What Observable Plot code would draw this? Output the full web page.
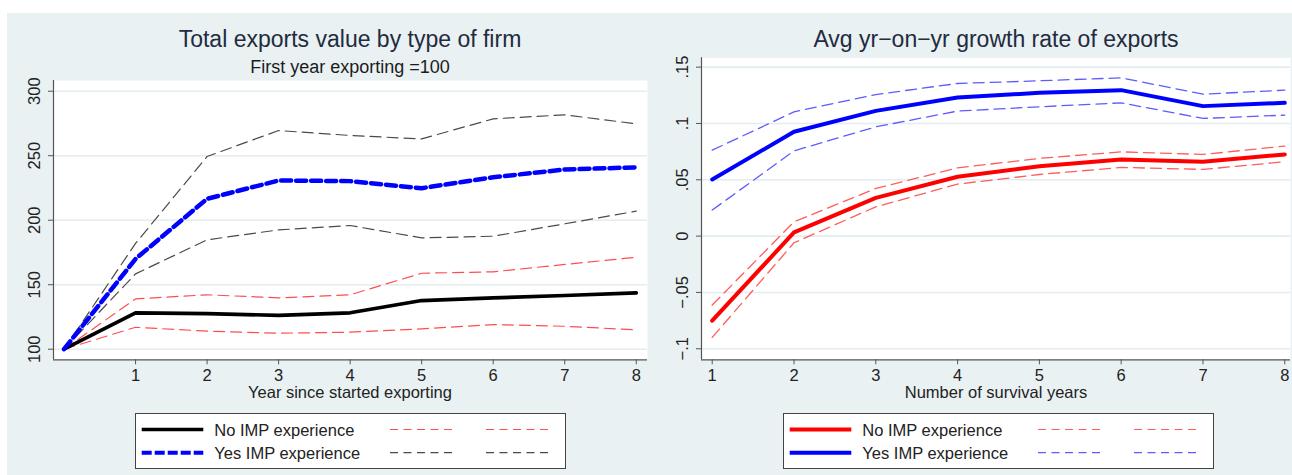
<!DOCTYPE html>
<html><head><meta charset="utf-8">
<script src="https://cdn.jsdelivr.net/npm/d3@7"></script>
<script src="https://cdn.jsdelivr.net/npm/@observablehq/plot@0.6"></script>
<style>
body{margin:0;background:#fff;}
#wrap{position:relative;width:1292px;height:475px;overflow:hidden;font-family:"Liberation Sans",Arial,sans-serif;}
#bg{position:absolute;left:7px;top:13px;width:1285px;height:462px;background:#e9f1f3;}
.p{position:absolute;top:0;}
#over{position:absolute;left:0;top:0;}
</style></head><body>
<div id="wrap"><div id="bg"></div><div id="left" class="p" style="left:0px"></div><div id="right" class="p" style="left:650px"></div><svg id="over" width="1292" height="475"></svg></div>
<script>
// ---- Left panel data: Total exports value (first year = 100)
const yearsL = [0,1,2,3,4,5,6,7,8];
const noImpL   = [100,128.2,127.6,126.2,128.2,137.7,139.8,141.6,143.7];
const noImpLoL = [100,117.0,114.0,112.4,113.2,115.8,119.1,117.8,115.0];
const noImpHiL = [100,139.0,142.2,139.8,142.2,158.9,160.0,165.7,171.3];
const yesImpL   = [100,170.0,216.6,230.8,230.3,224.8,233.3,239.3,241.0];
const yesImpLoL = [100,158.4,184.8,192.5,195.9,186.3,187.6,197.2,207.0];
const yesImpHiL = [100,182.0,249.4,269.5,265.7,263.0,278.6,281.7,274.7];
const yTicksL = [100,150,200,250,300];
const yTickLabelsL = ["100","150","200","250","300"];

// ---- Right panel data: Avg yr-on-yr growth rate
const yearsR = [1,2,3,4,5,6,7,8];
const noImpR   = [-0.0751,0.0033,0.0340,0.0527,0.0621,0.0680,0.0660,0.0725];
const noImpLoR = [-0.0899,-0.0059,0.0260,0.0462,0.0547,0.0610,0.0592,0.0660];
const noImpHiR = [-0.0612,0.0127,0.0423,0.0606,0.0690,0.0748,0.0725,0.0799];
const yesImpR   = [0.0503,0.0926,0.1112,0.1231,0.1272,0.1296,0.1154,0.1183];
const yesImpLoR = [0.0231,0.0757,0.0970,0.1110,0.1148,0.1183,0.1045,0.1074];
const yesImpHiR = [0.0763,0.1103,0.1257,0.1355,0.1379,0.1405,0.1260,0.1296];
const yTicksR = [-0.1,-0.05,0,0.05,0.1,0.15];
const yTickLabelsR = ["−.1","−.05","0",".05",".1",".15"];

const xTicks = [1,2,3,4,5,6,7,8];
const legendLabels = ["No IMP experience","Yes IMP experience"];

const FONT = '"Liberation Sans", Arial, sans-serif';

function lookup(ticks, labels) {
  return d => labels[d3.minIndex(ticks, t => Math.abs(t - d))];
}

function panel({width, mL, mR, mT, xDom, yDom, yTicks, yLabels, series}) {
  return Plot.plot({
    width, height: 410, marginLeft: mL, marginRight: mR, marginTop: mT, marginBottom: 50.7,
    style: {fontFamily: FONT, fontSize: "16.5px", background: "transparent", color: "#222", overflow: "visible"},
    x: {domain: xDom}, y: {domain: yDom},
    marks: [
      Plot.frame({fill: "white", stroke: "none"}),
      Plot.gridY(yTicks, {stroke: "#e3ecef", strokeOpacity: 1, strokeWidth: 1.6}),
      ...series.map(s => Plot.lineY(s.y, {x: s.x, stroke: s.color, strokeWidth: s.w, strokeDasharray: s.dash})),
      Plot.ruleX([xDom[0]], {stroke: "#555", strokeWidth: 1.2}),
      Plot.ruleY([yDom[0]], {stroke: "#555", strokeWidth: 1.2}),
      Plot.axisY(yTicks, {tickRotate: -90, tickSize: 5, tickPadding: 9, tickFormat: lookup(yTicks, yLabels), stroke: "#555", fill: "#222", label: null}),
      Plot.axisX(xTicks, {tickSize: 5, tickPadding: 4, tickFormat: d => String(d), stroke: "#555", fill: "#222", label: null})
    ]
  });
}

const thinDash = "11,6";
document.getElementById("left").append(panel({
  width: 660, mL: 53, mR: 13, mT: 80,
  xDom: [-0.147, 8.157], yDom: [91.8, 308.3],
  yTicks: yTicksL, yLabels: yTickLabelsL,
  series: [
    {x: yearsL, y: noImpHiL, color: "#ff4d4d", w: 1.2, dash: thinDash},
    {x: yearsL, y: noImpLoL, color: "#ff4d4d", w: 1.2, dash: thinDash},
    {x: yearsL, y: yesImpHiL, color: "#4a4a4a", w: 1.2, dash: thinDash},
    {x: yearsL, y: yesImpLoL, color: "#4a4a4a", w: 1.2, dash: thinDash},
    {x: yearsL, y: noImpL, color: "#000000", w: 3.6, dash: null},
    {x: yearsL, y: yesImpL, color: "#0000ff", w: 4.5, dash: "10,5"}
  ]
}));

document.getElementById("right").append(panel({
  width: 642, mL: 51, mR: 2, mT: 57.3,
  xDom: [0.869, 8.07], yDom: [-0.1098, 0.1583],
  yTicks: yTicksR, yLabels: yTickLabelsR,
  series: [
    {x: yearsR, y: noImpHiR, color: "#ff5c5c", w: 1.3, dash: thinDash},
    {x: yearsR, y: noImpLoR, color: "#ff5c5c", w: 1.3, dash: thinDash},
    {x: yearsR, y: yesImpHiR, color: "#5c5cff", w: 1.3, dash: thinDash},
    {x: yearsR, y: yesImpLoR, color: "#5c5cff", w: 1.3, dash: thinDash},
    {x: yearsR, y: noImpR, color: "#ff0000", w: 4, dash: null},
    {x: yearsR, y: yesImpR, color: "#0000ff", w: 4, dash: null}
  ]
}));

// ---- Titles, axis titles and legends
const over = d3.select("#over").style("font-family", FONT);
function txt(x, y, s, size, fill, anchor = "middle") {
  over.append("text").attr("x", x).attr("y", y).attr("font-size", size).attr("fill", fill)
    .attr("text-anchor", anchor).text(s);
}
txt(350, 47, "Total exports value by type of firm", 23, "#232b3e");
txt(350, 73, "First year exporting =100", 18, "#1c1c1c");
txt(996, 47, "Avg yr−on−yr growth rate of exports", 23, "#232b3e");
txt(350, 398, "Year since started exporting", 16.5, "#222");
txt(996, 398, "Number of survival years", 16.5, "#222");

function legend(x0, rows) {
  over.append("rect").attr("x", x0 + 0.5).attr("y", 413.5).attr("width", 430).attr("height", 55)
    .attr("fill", "white").attr("stroke", "#444").attr("stroke-width", 1);
  rows.forEach((r, i) => {
    const cy = 429.5 + i * 23.2;
    over.append("line").attr("x1", x0 + 6.7).attr("x2", x0 + 68.3).attr("y1", cy).attr("y2", cy)
      .attr("stroke", r.main).attr("stroke-width", r.mw).attr("stroke-dasharray", r.mdash);
    txt(x0 + 79.3, cy + 6.5, r.label, 16.5, "#222", "start");
    [255, 351].forEach(dx => {
      over.append("line").attr("x1", x0 + dx).attr("x2", x0 + dx + 62).attr("y1", cy).attr("y2", cy)
        .attr("stroke", r.ci).attr("stroke-width", 1.2).attr("stroke-dasharray", "8,5.5");
    });
  });
}
legend(135, [
  {label: legendLabels[0], main: "#000", mw: 3.6, mdash: null, ci: "#ff4d4d"},
  {label: legendLabels[1], main: "#0000ff", mw: 4, mdash: "10,3", ci: "#4a4a4a"}
]);
legend(783, [
  {label: legendLabels[0], main: "#ff0000", mw: 4, mdash: null, ci: "#ff5c5c"},
  {label: legendLabels[1], main: "#0000ff", mw: 4, mdash: null, ci: "#5c5cff"}
]);
</script>
</body></html>
